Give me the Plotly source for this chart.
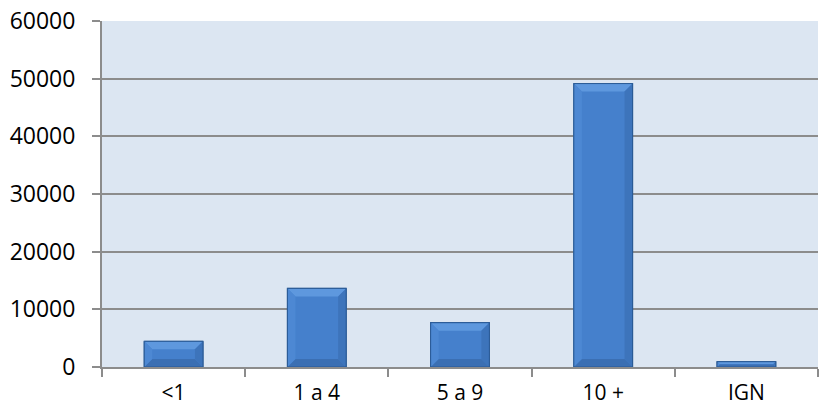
import plotly.graph_objects as go

# Cases by age group
categories = ["<1", "1 a 4", "5 a 9", "10 +", "IGN"]
values = [4450, 13630, 7680, 49150, 920]
y_ticks = [0, 10000, 20000, 30000, 40000, 50000, 60000]

positions = list(range(len(categories)))
BAR_W = 0.41
FONT = "Open Sans"

fig = go.Figure()
fig.add_trace(go.Bar(
    x=positions,
    y=values,
    width=BAR_W,
    marker=dict(color="#4580cc", line=dict(color="#2b5b96", width=1.2)),
    hoverinfo="x+y",
))

# bevel highlights on each bar: lighter top face, darker base and right edge
shapes = []
px_per_cat = 716 / len(categories)
px_per_unit = 346 / 60000
for x, v in zip(positions, values):
    half = BAR_W / 2
    dy = min(8 / px_per_unit, v * 0.45)
    dx = (dy * px_per_unit) / px_per_cat
    faces = [
        (f"M {x-half},{v} L {x+half},{v} L {x+half-dx},{v-dy} L {x-half+dx},{v-dy} Z", "#5e98de"),
        (f"M {x-half},0 L {x+half},0 L {x+half-dx},{dy} L {x-half+dx},{dy} Z", "#3b6fb3"),
        (f"M {x+half},0 L {x+half},{v} L {x+half-dx},{v-dy} L {x+half-dx},{dy} Z", "#3d74bb"),
        (f"M {x-half},0 L {x-half},{v} L {x-half+dx},{v-dy} L {x-half+dx},{dy} Z", "#4d88d3"),
    ]
    for path, col in faces:
        shapes.append(dict(type="path", xref="x", yref="y", layer="above",
                           path=path, fillcolor=col, line=dict(width=0)))
    # thin outline redrawn on top
    shapes.append(dict(type="rect", xref="x", yref="y", layer="above",
                       x0=x - half, x1=x + half, y0=0, y1=v,
                       line=dict(color="#2b5b96", width=1)))

fig.update_layout(
    width=819, height=411,
    margin=dict(l=102, r=1, t=21, b=44),
    paper_bgcolor="white",
    plot_bgcolor="#dce6f2",
    showlegend=False,
    bargap=1 - BAR_W,
    shapes=shapes,
    font=dict(family=FONT, size=20, color="#000000"),
    xaxis=dict(
        range=[-0.5, len(categories) - 0.5],
        tickmode="array", tickvals=positions, ticktext=categories,
        ticks="", showgrid=False, zeroline=False,
        showline=True, linecolor="#8c8c8c", linewidth=2,
        ticklabelstandoff=6,
        tickfont=dict(family=FONT, size=21),
        minor=dict(
            tickmode="array",
            tickvals=[p - 0.5 for p in positions] + [positions[-1] + 0.5],
            ticks="outside", ticklen=8, tickwidth=1.5, tickcolor="#8c8c8c",
            showgrid=False,
        ),
        fixedrange=True,
    ),
    yaxis=dict(
        range=[0, 60000],
        tickmode="array", tickvals=y_ticks,
        ticktext=[str(t) for t in y_ticks],
        ticks="outside", ticklen=8, tickwidth=1.5, tickcolor="#8c8c8c",
        showgrid=True, gridcolor="#8c8c8c", gridwidth=1.5,
        zeroline=False,
        showline=True, linecolor="#8c8c8c", linewidth=2,
        ticklabelstandoff=12,
        tickfont=dict(family=FONT, size=23),
        fixedrange=True,
    ),
)

fig.write_html("out.html")
